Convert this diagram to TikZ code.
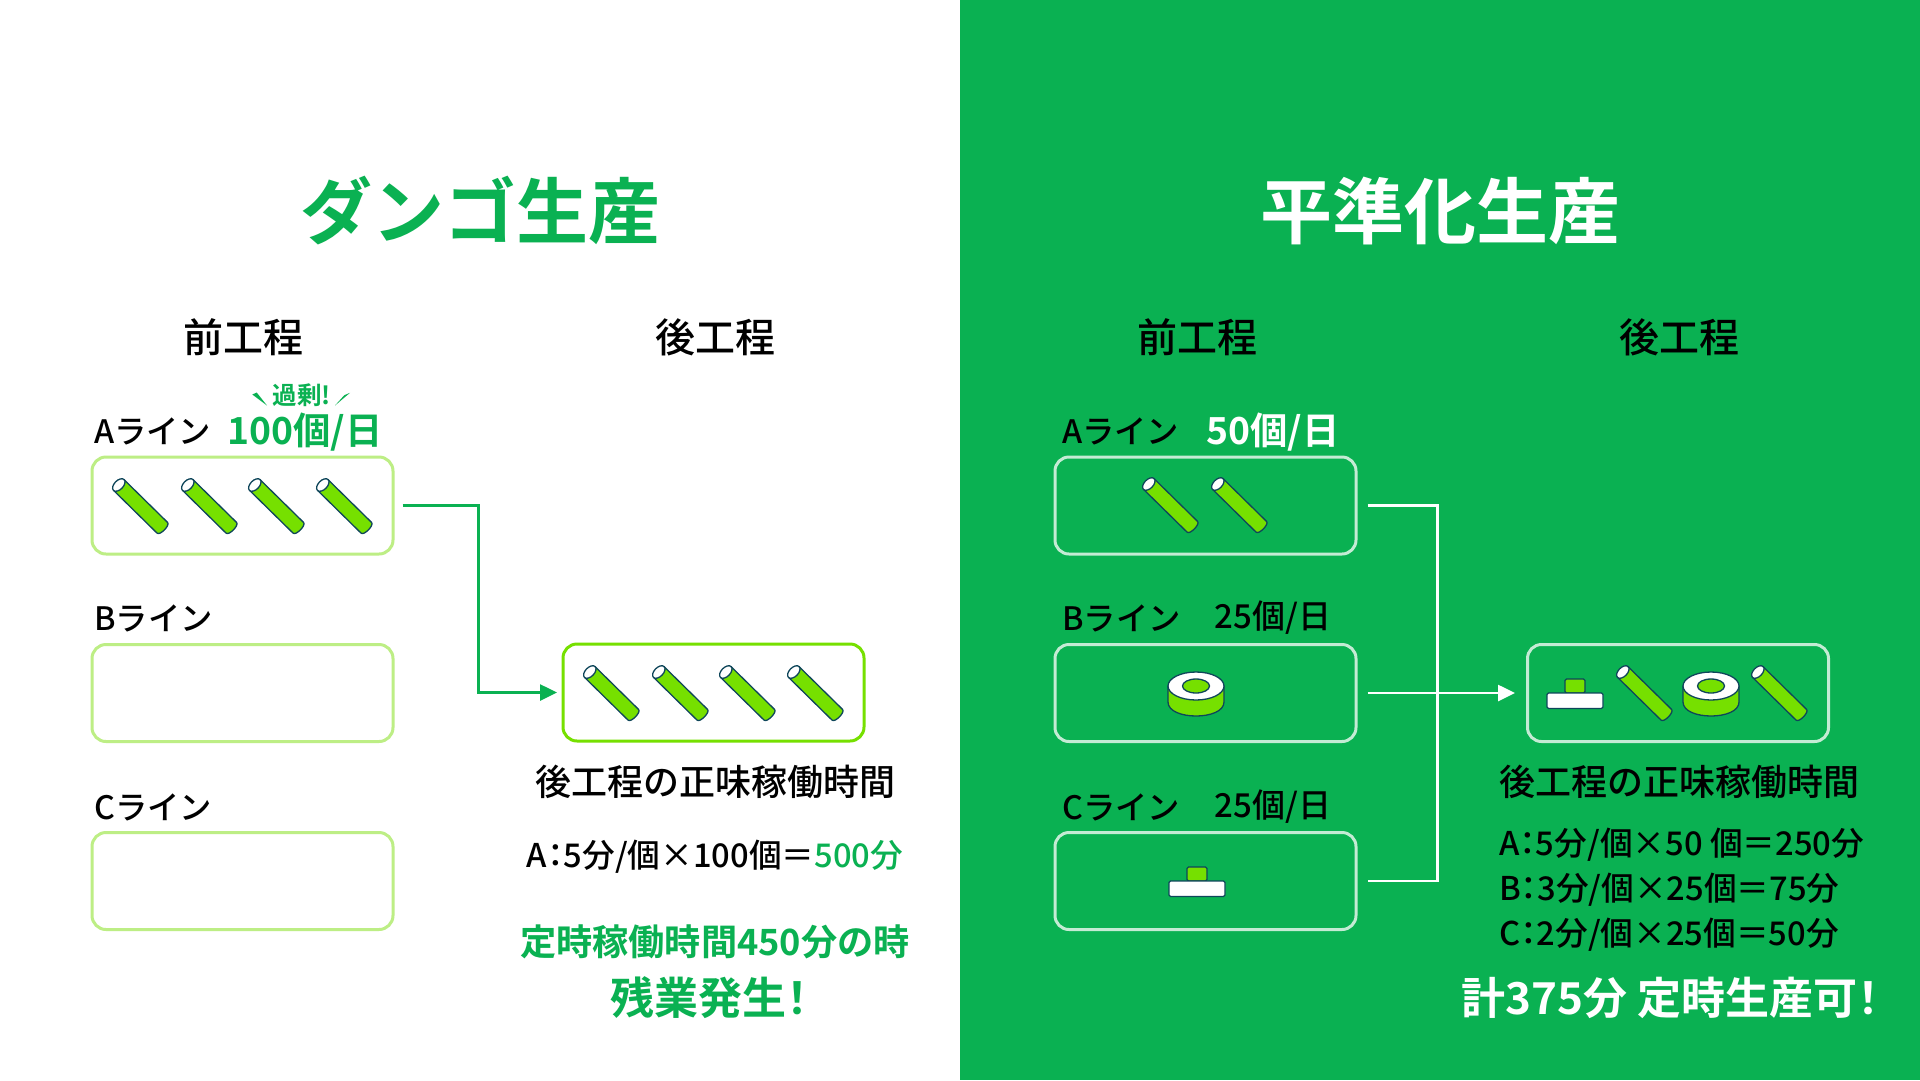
\documentclass[tikz,border=0pt]{standalone}
\usepackage{fontspec}
\setmainfont[BoldFont={Noto Sans CJK JP Bold}]{Noto Sans CJK JP Medium}
\newfontfamily\pfont[RawFeature=+palt,BoldFont={Noto Sans CJK JP Bold}]{Noto Sans CJK JP Medium}
\usetikzlibrary{arrows.meta}
\definecolor{brand}{RGB}{10,177,82}
\definecolor{leaf}{RGB}{118,224,0}
\definecolor{paleleaf}{RGB}{189,238,133}
\definecolor{ink}{RGB}{15,70,90}
\definecolor{paleline}{RGB}{196,235,212}
\newcommand{\fsz}[1]{\fontsize{#1}{#1}\selectfont}
\newcommand{\cln}{{\pfont ：}}
\newcommand{\bang}{{\pfont ！}}
\tikzset{
  x=1pt,y=-1pt,
  part/.style={draw=ink,line width=1.3pt,line join=round},
  cyl/.pic={
    \begin{scope}[shift={(0.8,0)},rotate=-44.5]
      \path[part,fill=leaf] (0,-7.5) -- (61,-7.5) .. controls (65,-7.5) and (65,7.5) .. (61,7.5) -- (0,7.5) -- cycle;
      \path[part,fill=white] (0,0) ellipse [x radius=4.5,y radius=7.6];
    \end{scope}
  },
  donut/.pic={
    \path[part,fill=leaf] (-28,0) -- (-28,16) .. controls (-28,34.67) and (28,34.67) .. (28,16) -- (28,0) -- cycle;
    \path[part,fill=white] (0,0) ellipse [x radius=28,y radius=14];
    \path[part,fill=leaf] (0,0) ellipse [x radius=13.5,y radius=7];
  },
  tee/.pic={
    \path[part,fill=leaf,rounded corners=1.5pt] (-10,0) -- (-10,-14) -- (10,-14) -- (10,0) -- cycle;
    \path[part,fill=white,rounded corners=1.5pt] (-28,0) rectangle (28,15.5);
  },
  linebox/.style={draw=paleleaf,line width=3pt,rounded corners=14pt,minimum width=301pt,minimum height=97pt,inner sep=0pt},
  postbox/.style={linebox,draw=leaf},
  rbox/.style={linebox,draw=paleline},
  conL/.style={draw=brand,line width=2.6pt},
  conR/.style={draw=white,line width=2.6pt},
  tip/.style={-{Triangle[length=17pt,width=16pt]}},
  ttl/.style={font=\bfseries\fsz{72},text=brand,inner sep=0pt},
  hdr/.style={font=\fsz{40},inner sep=0pt},
  lbl/.style={font=\fsz{32.3},anchor=west,inner sep=0pt},
  cnt/.style={font=\fsz{33},inner sep=0pt},
  big/.style={font=\bfseries\fsz{37.3},inner sep=0pt},
  head/.style={font=\fsz{36},inner sep=0pt},
  calc/.style={font=\fsz{32.7},inner sep=0pt},
  warn/.style={font=\bfseries\fsz{36.2},text=brand,inner sep=0pt},
  shout/.style={font=\bfseries\fsz{44},inner sep=0pt},
}
\begin{document}
\begin{tikzpicture}
\useasboundingbox (0,0) rectangle (1920,1080);
\fill[white] (0,0) rectangle (960,1080);
\fill[brand] (960,0) rectangle (1920,1080);

% left panel
\node[ttl] (t1) at (480,211) {ダンゴ生産};
\node[hdr] (h1) at (243,337) {前工程};
\node[hdr] (h2) at (715,337) {後工程};
\node[lbl] (la) at (94,431) {Aライン};
\node[lbl] (lb) at (94,618) {Bライン};
\node[lbl] (lc) at (94,807) {Cライン};
\node[big,text=brand] (na) at (305,432) {100個/日};
\node[font=\bfseries\fsz{24.5},text=brand,inner sep=0pt] (ex) at (302,395) {過剰!};
\fill[brand] (252.3,394.5) -- (256.7,392.5) -- (267,405.5) -- cycle;
\fill[brand] (350,392.8) -- (344.3,395.2) -- (335,405.5) -- cycle;
\node[linebox] (ba) at (242.5,505.5) {};
\node[linebox] (bb) at (242.5,693) {};
\node[linebox] (bc) at (242.5,881) {};
\node[postbox] (bp) at (713.5,692.5) {};
\foreach \x in {118,187,254,322} \pic at (\x,485) {cyl};
\foreach \x in {589,658,725,793} \pic at (\x,672) {cyl};
\coordinate (s1) at ([xshift=8pt]ba.east);
\coordinate (e1) at ([xshift=-4.5pt]bp.west);
\draw[conL,tip] (s1) -- ++(76,0) |- (e1);
\node[head] (q1) at (715,782) {後工程の正味稼働時間};
\node[calc] (c1) at (715,857) {A\cln 5分/個×100個＝\textcolor{brand}{500分}};
\node[warn] (w1) at (715,942) {定時稼働時間450分の時};
\node[shout,text=brand,anchor=west] (w2) at (610,998) {残業発生\bang};

% right panel
\node[ttl,text=white] (t2) at (1440,211) {平準化生産};
\node[hdr] (h3) at (1197,337) {前工程};
\node[hdr] (h4) at (1679,337) {後工程};
\node[lbl] (ra) at (1062,431) {Aライン};
\node[lbl] (rb) at (1062,618) {Bライン};
\node[lbl] (rc) at (1062,807) {Cライン};
\node[big,text=white] (ma) at (1273,432) {50個/日};
\node[cnt] (mb) at (1273,618) {25個/日};
\node[cnt] (mc) at (1273,807) {25個/日};
\node[rbox] (ca) at (1205.5,505.5) {};
\node[rbox] (cb) at (1205.5,693) {};
\node[rbox] (cc) at (1205.5,881) {};
\node[rbox] (cp) at (1678,693) {};
\pic at (1148,484) {cyl};
\pic at (1217,484) {cyl};
\pic at (1196,686) {donut};
\pic at (1197,881) {tee};
\pic at (1575,693) {tee};
\pic at (1622,672) {cyl};
\pic at (1711,686) {donut};
\pic at (1757,672) {cyl};
\coordinate (sa) at ([xshift=10pt]ca.east);
\coordinate (sb) at ([xshift=10pt]cb.east);
\coordinate (sc) at ([xshift=10pt]cc.east);
\coordinate (ep) at ([xshift=-11pt]cp.west);
\draw[conR] (sa) -- ++(70,0) |- (sc);
\draw[conR,tip] (sb) -- (ep);
\node[head] (q2) at (1679,782) {後工程の正味稼働時間};
\node[calc,anchor=west] (ca1) at (1499,845) {A\cln 5分/個×50 個＝250分};
\node[calc,anchor=west] (ca2) at (1499,890) {B\cln 3分/個×25個＝75分};
\node[calc,anchor=west] (ca3) at (1499,935) {C\cln 2分/個×25個＝50分};
\node[shout,text=white,anchor=west] (tot) at (1461,998) {計375分 定時生産可\bang};
\end{tikzpicture}
\end{document}
